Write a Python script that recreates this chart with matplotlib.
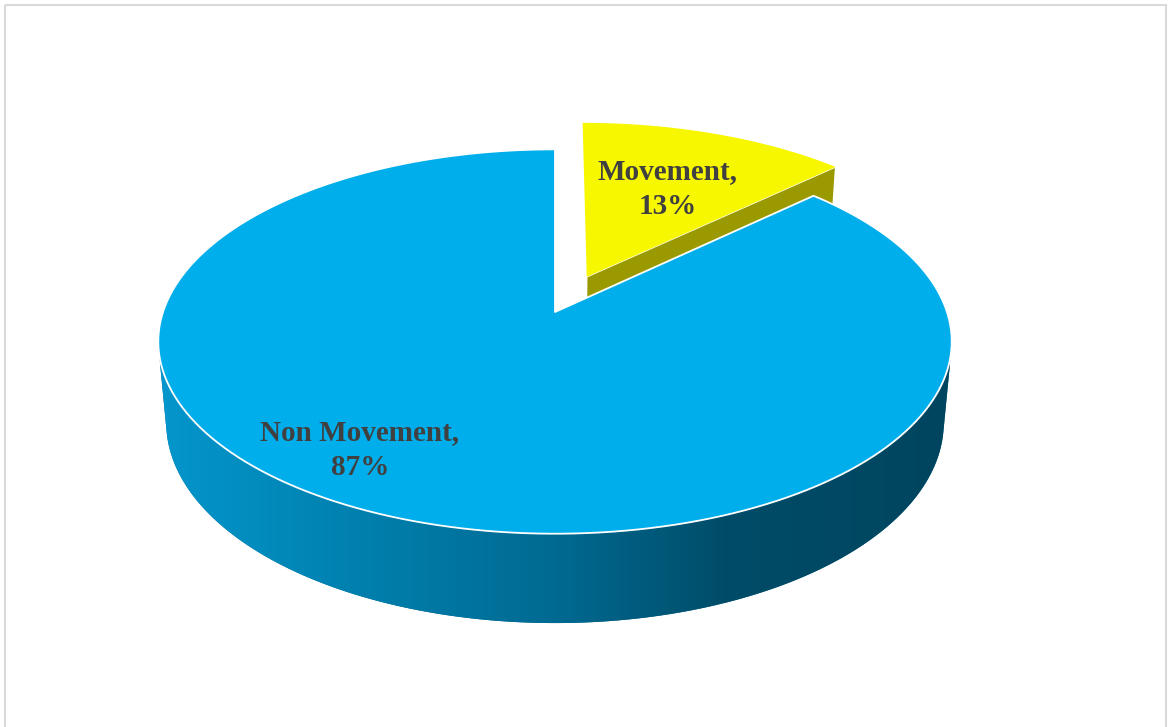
import numpy as np
import matplotlib.pyplot as plt
from matplotlib.patches import Polygon, Rectangle
from matplotlib.colors import LinearSegmentedColormap

# Datos
labels = ["Movement", "Non Movement"]
values = [13, 87]
explode = [0.21, 0.0]

# Colores
TOP_COLORS = ["#F7F700", "#00AEEC"]
SIDE_COLORS = ["#9A9A00", None]      # None -> degradado azul
TEXT_COLOR = "#404040"
side_cmap = LinearSegmentedColormap.from_list(
    "side", [(0.0, "#0496CC"), (0.25, "#0080AE"), (0.5, "#006A92"),
             (0.72, "#004C68"), (1.0, "#00455F")])

# Proyección en perspectiva de la tarta 3D (en píxeles)
W, Hpx = 1168, 727
CX, CY = 555, 312
R, DEPTH = 0.175, 0.0416
F = 392 / R
TILT = np.radians(28.6)
ct, st = np.cos(TILT), np.sin(TILT)


def project(X, Y, Z):
    yc = Y * ct + Z * st
    zc = 1.0 - Y * st + Z * ct
    return CX + F * X / zc, CY - F * yc / zc


def rim_pts(th, y, off):
    u, v = project(R * np.sin(th) + off[0], y, R * np.cos(th) + off[1])
    return np.column_stack([u, v])


def rim(a0, a1, y, off, n=200):
    return rim_pts(np.radians(np.linspace(a0, a1, n)), y, off)


fig = plt.figure(figsize=(W / 100, Hpx / 100), dpi=100)
ax = fig.add_axes([0, 0, 1, 1])
ax.set_xlim(0, W)
ax.set_ylim(Hpx, 0)
ax.axis("off")

# marco del gráfico
ax.add_patch(Rectangle((4.5, 4.5), 1161, 740, fill=False,
                       ec="#D9D9D9", lw=1.5, zorder=0))

total = sum(values)
angles = np.cumsum([0] + values) / total * 360.0

# se dibuja primero la porción separada (está detrás)
for i in [0, 1]:
    a0, a1 = angles[i], angles[i + 1]
    mid = np.radians((a0 + a1) / 2)
    off = (explode[i] * R * np.sin(mid), explode[i] * R * np.cos(mid))
    z = 2 + i * 5

    def face(a):
        t = np.radians(a)
        pts = [(off[0], 0, off[1]),
               (off[0] + R * np.sin(t), 0, off[1] + R * np.cos(t)),
               (off[0] + R * np.sin(t), -DEPTH, off[1] + R * np.cos(t)),
               (off[0], -DEPTH, off[1])]
        return [project(*p) for p in pts]

    side_col = SIDE_COLORS[i] if SIDE_COLORS[i] else "#00658C"
    # caras de corte (la separada sólo enseña la de la derecha)
    if explode[i] == 0:
        for a in (a0, a1):
            ax.add_patch(Polygon(face(a), closed=True, fc=side_col,
                                 ec="none", zorder=z))
    # pared exterior: sólo la parte que mira a la cámara
    th = np.radians(np.linspace(a0, a1, 400))
    px = R * np.sin(th) + off[0]
    pz = R * np.cos(th) + off[1]
    vis = (-px * np.sin(th) - (ct + pz) * np.cos(th)) > 0
    if vis.any():
        tv = th[vis]
        wall = np.vstack([rim_pts(tv, 0, off), rim_pts(tv, -DEPTH, off)[::-1]])
        wpoly = Polygon(wall, closed=True, fc=side_col, ec="none",
                        zorder=z + 1)
        ax.add_patch(wpoly)
        if SIDE_COLORS[i] is None:
            grad = np.linspace(0, 1, 512).reshape(1, -1)
            im = ax.imshow(grad, cmap=side_cmap, aspect="auto",
                           extent=(160, 950, 640, 150), zorder=z + 1.5)
            im.set_clip_path(wpoly)
    # cara visible de la porción separada
    if explode[i] > 0:
        ax.add_patch(Polygon(face(a1), closed=True, fc=side_col,
                             ec="white", lw=1.0, zorder=z + 2))
    # cara superior
    top = np.vstack([[project(off[0], 0, off[1])], rim(a0, a1, 0, off)])
    ax.add_patch(Polygon(top, closed=True, fc=TOP_COLORS[i],
                         ec="white" if explode[i] == 0 else "none",
                         lw=1.3, joinstyle="round", zorder=z + 3))

# etiquetas de datos
font = dict(family="Liberation Serif", weight="bold", size=21,
            color=TEXT_COLOR, ha="center", va="center", linespacing=1.4)
ax.text(668, 189, f"{labels[0]},\n{values[0]}%", zorder=20, **font)
ax.text(360, 450, f"{labels[1]},\n{values[1]}%", zorder=20, **font)

fig.savefig("out.png", dpi=100)
